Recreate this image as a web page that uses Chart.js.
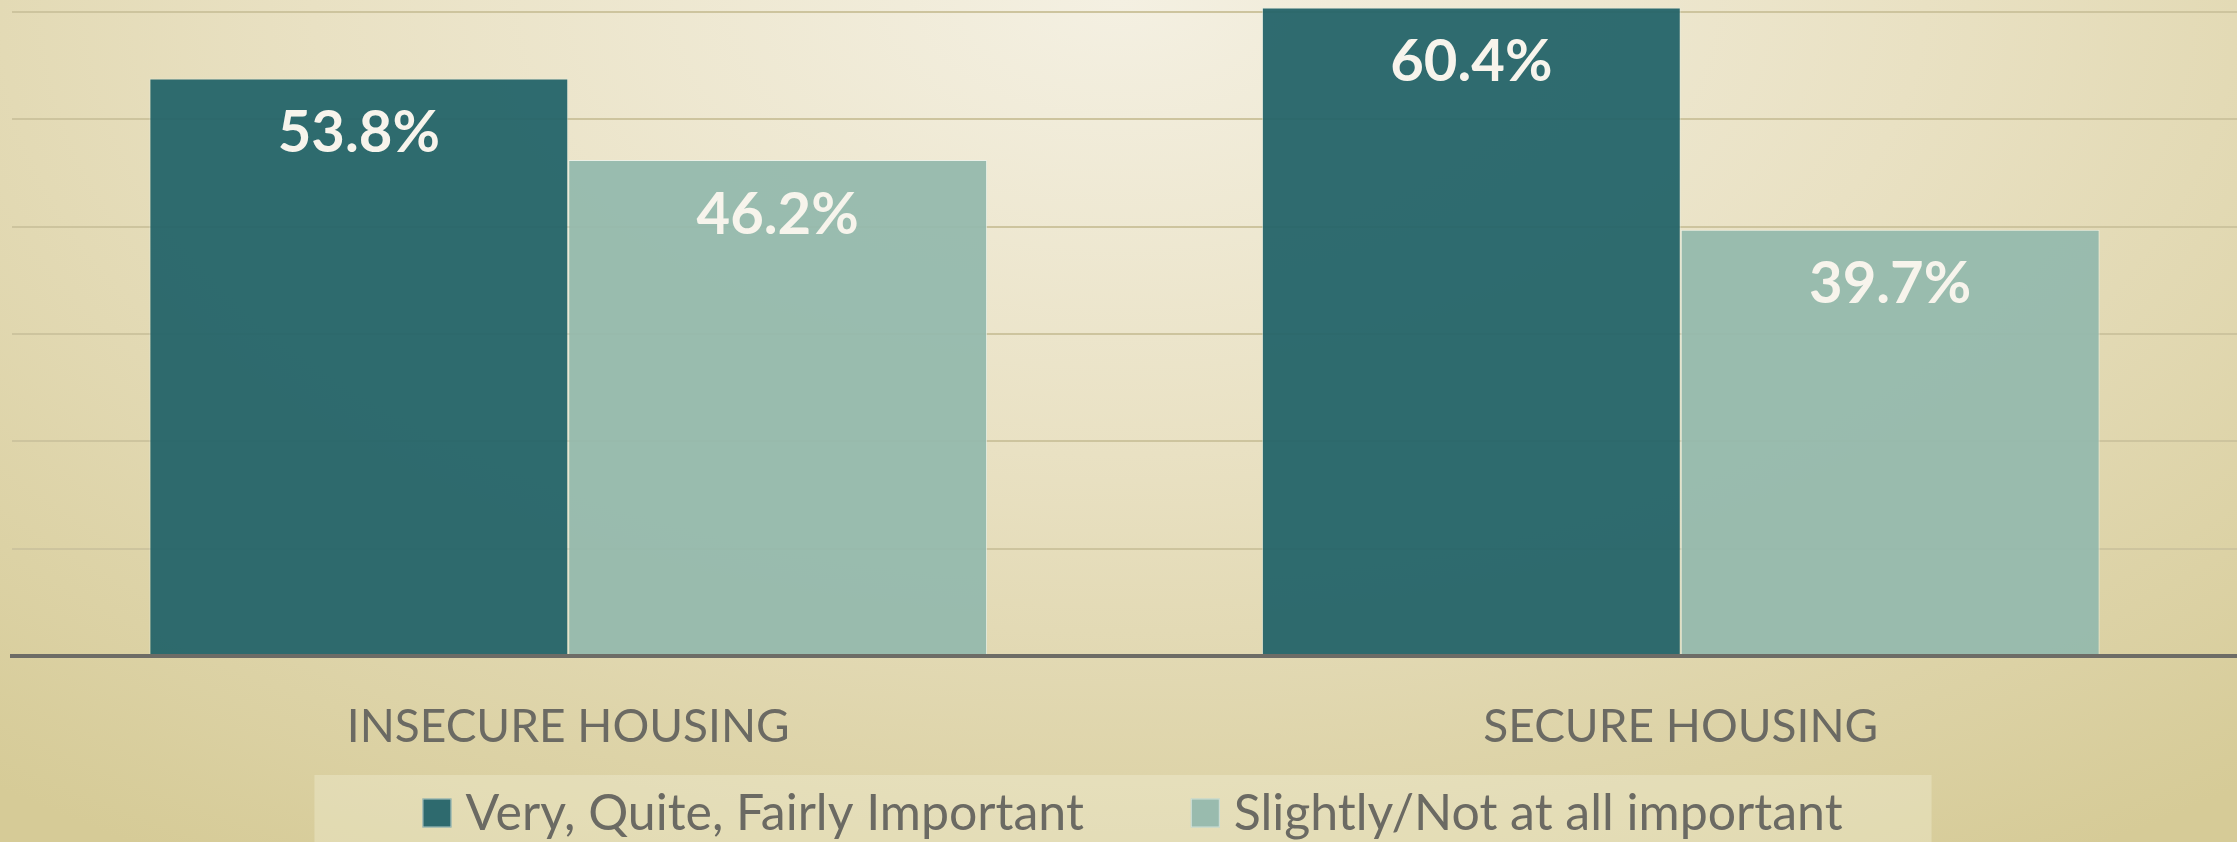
<!DOCTYPE html>
<html>
<head>
<title>Importance by housing security</title>
<style>
html, body {
	margin: 0;
	padding: 0;
}
body {
	width: 2237px;
	height: 842px;
	overflow: hidden;
	background: radial-gradient(ellipse 80% 120% at 50% 0%, #f4f0e2 0%, #e9e1c3 45%, #d6cb97 100%);
}
#chart {
	display: block;
}
</style>
</head>
<body>
<canvas id="chart" width="2237" height="842"></canvas>
<script src="https://cdn.jsdelivr.net/npm/chart.js@4.4.1/dist/chart.umd.min.js"></script>
<script>
	var categories = ['INSECURE HOUSING', 'SECURE HOUSING'];
	var seriesNames = ['Very, Quite, Fairly Important', 'Slightly/Not at all important'];
	var importantValues = [53.8, 60.4];
	var notImportantValues = [46.2, 39.7];
	var gridSteps = [0, 10, 20, 30, 40, 50, 60];

	var textGrey = '#6b6a63';

	// values printed inside the top of each bar
	var barLabels = {
		id: 'barLabels',
		afterDatasetsDraw: function(chart) {
			var ctx = chart.ctx;
			ctx.save();
			ctx.fillStyle = '#f7f4ec';
			ctx.font = 'bold 58px Lato';
			ctx.textAlign = 'center';
			ctx.textBaseline = 'middle';
			chart.data.datasets.forEach(function(ds, i) {
				chart.getDatasetMeta(i).data.forEach(function(bar, j) {
					ctx.fillText(ds.data[j].toFixed(1) + '%', bar.x, bar.y + 55);
				});
			});
			ctx.restore();
		}
	};

	// legend in a pale panel under the axis labels
	var panelLegend = {
		id: 'panelLegend',
		afterDraw: function(chart) {
			var ctx = chart.ctx;
			var box = 29, gap = 14, itemGap = 107;
			ctx.save();
			ctx.font = '50px Lato';
			var widths = chart.data.datasets.map(function(ds) { return ctx.measureText(ds.label).width; });
			var total = box + gap + widths[0] + itemGap + box + gap + widths[1];
			var x = (chart.chartArea.left + chart.chartArea.right) / 2 + 8 - total / 2;
			var cy = 813;
			ctx.fillStyle = 'rgba(250, 247, 230, 0.3)';
			ctx.fillRect(x - 108, 775, total + 108 + 89, chart.height - 775);
			ctx.textBaseline = 'middle';
			chart.data.datasets.forEach(function(ds, i) {
				ctx.fillStyle = ds.legendColor;
				ctx.fillRect(x, cy - box / 2, box, box);
				ctx.strokeStyle = 'rgba(235, 243, 236, 0.7)';
				ctx.lineWidth = 1;
				ctx.strokeRect(x + 0.5, cy - box / 2 + 0.5, box - 1, box - 1);
				ctx.fillStyle = textGrey;
				ctx.fillText(ds.label, x + box + gap, cy + 1);
				x += box + gap + widths[i] + itemGap;
			});
			ctx.restore();
		}
	};

	function draw() {
		new Chart(document.getElementById('chart'), {
			type: 'bar',
			data: {
				labels: categories,
				datasets: [{
					label: seriesNames[0],
					data: importantValues,
					backgroundColor: 'rgba(36, 100, 105, 0.95)',
					legendColor: '#2e6a6e',
					borderColor: 'rgba(225, 236, 228, 0.55)',
					borderWidth: 1,
					borderSkipped: 'bottom'
				}, {
					label: seriesNames[1],
					data: notImportantValues,
					backgroundColor: 'rgba(149, 185, 173, 0.95)',
					legendColor: '#99bbae',
					borderColor: 'rgba(235, 243, 236, 0.8)',
					borderWidth: 1,
					borderSkipped: 'bottom'
				}]
			},
			options: {
				responsive: false,
				animation: false,
				events: [],
				layout: {
					padding: { left: 12, right: 0, top: 0, bottom: 86 }
				},
				datasets: {
					bar: {
						barPercentage: 1,
						categoryPercentage: 0.753
					}
				},
				plugins: {
					legend: { display: false },
					tooltip: { enabled: false }
				},
				scales: {
					x: {
						grid: { display: false, drawTicks: false },
						border: { display: true, color: '#6d6c66', width: 4, z: 1 },
						ticks: {
							color: textGrey,
							font: { family: 'Lato', size: 46 },
							padding: 44
						},
						afterFit: function(scale) { scale.height = 100; }
					},
					y: {
						min: 0,
						max: 61.1,
						afterBuildTicks: function(scale) {
							scale.ticks = gridSteps.map(function(v) { return { value: v }; });
						},
						ticks: { display: false },
						grid: { color: '#cdc49e', lineWidth: 2, drawTicks: false },
						border: { display: false }
					}
				}
			},
			plugins: [barLabels, panelLegend]
		});
	}

	Promise.all([
		document.fonts.load('46px Lato'),
		document.fonts.load('bold 58px Lato')
	]).then(draw, draw);
</script>
</body>
</html>
